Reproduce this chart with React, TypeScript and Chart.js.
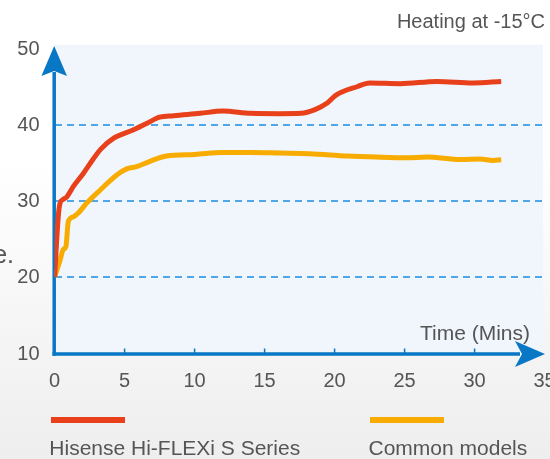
import React, { useEffect, useRef } from "react";
import { Chart, registerables } from "chart.js";

Chart.register(...registerables);

const TITLE = "Heating at -15°C";
const X_TITLE = "Time (Mins)";
const SIDE_TEXT = "e.";
const SERIES_NAMES = ["Hisense Hi-FLEXi S Series", "Common models"];
const SERIES_COLORS = ["#e8401a", "#f8ab00"];
const X_TICKS = [0, 5, 10, 15, 20, 25, 30, 35];
const Y_TICKS = [10, 20, 30, 40, 50];
const GRID_VALUES = [20, 30, 40];

const hisenseTime = [0, 0.26, 0.39, 0.62, 0.86, 1.34, 2.05, 2.76, 3.3, 4.2, 5.6, 6.6, 7.5, 8.5, 10.4, 12, 14, 16.1, 17.6, 18.6, 19.5, 20.1, 21.6, 22.5, 24.7, 27.3, 29.9, 31.9];
const hisenseTemp = [20, 27.9, 29.7, 30.2, 30.5, 31.9, 33.6, 35.5, 36.8, 38.2, 39.3, 40.2, 41.0, 41.2, 41.5, 41.8, 41.5, 41.45, 41.5, 42.0, 42.9, 43.9, 45.0, 45.5, 45.4, 45.7, 45.5, 45.7];

const commonTime = [0, 0.39, 0.62, 0.81, 0.98, 1.34, 1.69, 2.29, 3.24, 4.44, 5.15, 5.86, 6.81, 8.0, 10, 12, 14, 16.1, 18.2, 20.9, 23, 25.1, 26.6, 29.0, 30.4, 31.3, 31.9];
const commonTemp = [20, 22.2, 23.6, 24.0, 27.3, 27.9, 28.4, 29.7, 31.4, 33.4, 34.2, 34.5, 35.2, 35.9, 36.1, 36.35, 36.35, 36.28, 36.2, 35.9, 35.75, 35.66, 35.75, 35.43, 35.49, 35.3, 35.4];

const FONT = '"Liberation Sans", Arial, sans-serif';
const TEXT_COLOR = "#555555";
const AXIS_COLOR = "#0877c5";

const decorPlugin = {
  id: "decor",
  beforeDraw(chart: any) {
    const { ctx, chartArea } = chart;
    ctx.save();
    ctx.fillStyle = "#f0f6fb";
    ctx.fillRect(chartArea.left, chartArea.top - 4, chartArea.right - chartArea.left - 1.5, chartArea.bottom - chartArea.top + 5);
    ctx.restore();
  },
  beforeDatasetsDraw(chart: any) {
    const { ctx, chartArea, scales } = chart;
    const xs = scales.x;
    const ys = scales.y;
    const x0 = chartArea.left - 0.4;
    const y0 = chartArea.bottom + 1;
    const yTip = ys.getPixelForValue(50) - 2.7;
    const xTip = xs.getPixelForValue(35) + 0.4;
    ctx.save();
    ctx.strokeStyle = AXIS_COLOR;
    ctx.fillStyle = AXIS_COLOR;
    ctx.lineWidth = 3.5;
    ctx.lineCap = "butt";
    // y axis
    ctx.beginPath();
    ctx.moveTo(x0, y0 + 1.75);
    ctx.lineTo(x0, yTip + 26);
    ctx.stroke();
    ctx.beginPath();
    ctx.moveTo(x0, yTip);
    ctx.lineTo(x0 - 12.8, yTip + 30);
    ctx.lineTo(x0, yTip + 25);
    ctx.lineTo(x0 + 12.8, yTip + 30);
    ctx.closePath();
    ctx.fill();
    // x axis
    ctx.beginPath();
    ctx.moveTo(x0 - 1.75, y0);
    ctx.lineTo(xTip - 25, y0);
    ctx.stroke();
    ctx.beginPath();
    ctx.moveTo(xTip, y0);
    ctx.lineTo(xTip - 30, y0 - 13);
    ctx.lineTo(xTip - 23, y0);
    ctx.lineTo(xTip - 30, y0 + 13);
    ctx.closePath();
    ctx.fill();
    // tick marks
    ctx.lineWidth = 1.5;
    X_TICKS.forEach((v) => {
      if (v <= 0 || v >= 35) return;
      const px = xs.getPixelForValue(v);
      ctx.beginPath();
      ctx.moveTo(px, y0);
      ctx.lineTo(px, y0 - 5.5);
      ctx.stroke();
    });
    ctx.restore();
  },
};

export default function App() {
  const ref = useRef<HTMLCanvasElement | null>(null);

  useEffect(() => {
    if (!ref.current) return;
    const chart = new Chart(ref.current, {
      type: "line",
      data: {
        datasets: [
          {
            label: SERIES_NAMES[0],
            data: hisenseTime.map((t, i) => ({ x: t, y: hisenseTemp[i] })),
            borderColor: SERIES_COLORS[0],
            backgroundColor: SERIES_COLORS[0],
            borderWidth: 5,
            pointRadius: 0,
            cubicInterpolationMode: "monotone",
            borderJoinStyle: "round",
            fill: false,
          },
          {
            label: SERIES_NAMES[1],
            data: commonTime.map((t, i) => ({ x: t, y: commonTemp[i] })),
            borderColor: SERIES_COLORS[1],
            backgroundColor: SERIES_COLORS[1],
            borderWidth: 5,
            pointRadius: 0,
            cubicInterpolationMode: "monotone",
            borderJoinStyle: "round",
            fill: false,
          },
        ],
      } as any,
      options: {
        responsive: false,
        animation: false,
        devicePixelRatio: 1,
        layout: { padding: { left: 0, top: 48.7, right: 55.4, bottom: 66 } },
        plugins: {
          legend: { display: false },
          tooltip: { enabled: false },
          title: { display: false },
        },
        scales: {
          x: {
            type: "linear",
            min: 0,
            max: 35,
            afterBuildTicks: (s: any) => {
              s.ticks = X_TICKS.map((v) => ({ value: v }));
            },
            afterFit: (s: any) => {
              s.height = 40;
            },
            grid: { display: false, drawTicks: false },
            border: { display: false },
            ticks: {
              padding: 16,
              color: TEXT_COLOR,
              font: { size: 20, family: FONT },
              maxRotation: 0,
              autoSkip: false,
            },
          },
          y: {
            type: "linear",
            min: 10,
            max: 50,
            afterBuildTicks: (s: any) => {
              s.ticks = Y_TICKS.map((v) => ({ value: v }));
            },
            afterFit: (s: any) => {
              s.width = 54.6;
            },
            grid: {
              color: (c: any) => (c.tick && GRID_VALUES.includes(c.tick.value) ? "#4ea7e6" : "rgba(0,0,0,0)"),
              lineWidth: 2,
              drawTicks: false,
            },
            border: { display: false, dash: [7, 5] },
            ticks: {
              padding: 15,
              labelOffset: 1,
              color: TEXT_COLOR,
              font: { size: 20, family: FONT },
              autoSkip: false,
            },
          },
        },
      } as any,
      plugins: [decorPlugin],
    });
    return () => chart.destroy();
  }, []);

  const text = (extra: React.CSSProperties): React.CSSProperties => ({
    position: "absolute",
    fontFamily: FONT,
    color: TEXT_COLOR,
    whiteSpace: "nowrap",
    margin: 0,
    ...extra,
  });

  return (
    <div
      style={{
        position: "fixed",
        left: 0,
        top: 0,
        width: 550,
        height: 459,
        overflow: "hidden",
        background: "linear-gradient(to bottom, #ffffff 0%, #ffffff 35%, #eeeeee 100%)",
      }}
    >
      <canvas ref={ref} width={600} height={459} style={{ position: "absolute", left: 0, top: 0, display: "block" }} />
      <div style={text({ right: 5, top: 11.3, fontSize: 20, lineHeight: "20px" })}>{TITLE}</div>
      <div style={text({ left: 420, top: 322.2, fontSize: 21, lineHeight: "21px" })}>{X_TITLE}</div>
      <div style={text({ right: 536, top: 242, fontSize: 25, lineHeight: "25px" })}>{SIDE_TEXT}</div>
      <div style={{ position: "absolute", left: 51, top: 417.3, width: 73.5, height: 5.4, background: SERIES_COLORS[0] }} />
      <div style={{ position: "absolute", left: 369.5, top: 417.3, width: 74, height: 5.4, background: SERIES_COLORS[1] }} />
      <div style={text({ left: 49.3, top: 437.2, fontSize: 21, lineHeight: "21px" })}>{SERIES_NAMES[0]}</div>
      <div style={text({ left: 368.5, top: 437.2, fontSize: 21, lineHeight: "21px" })}>{SERIES_NAMES[1]}</div>
    </div>
  );
}
